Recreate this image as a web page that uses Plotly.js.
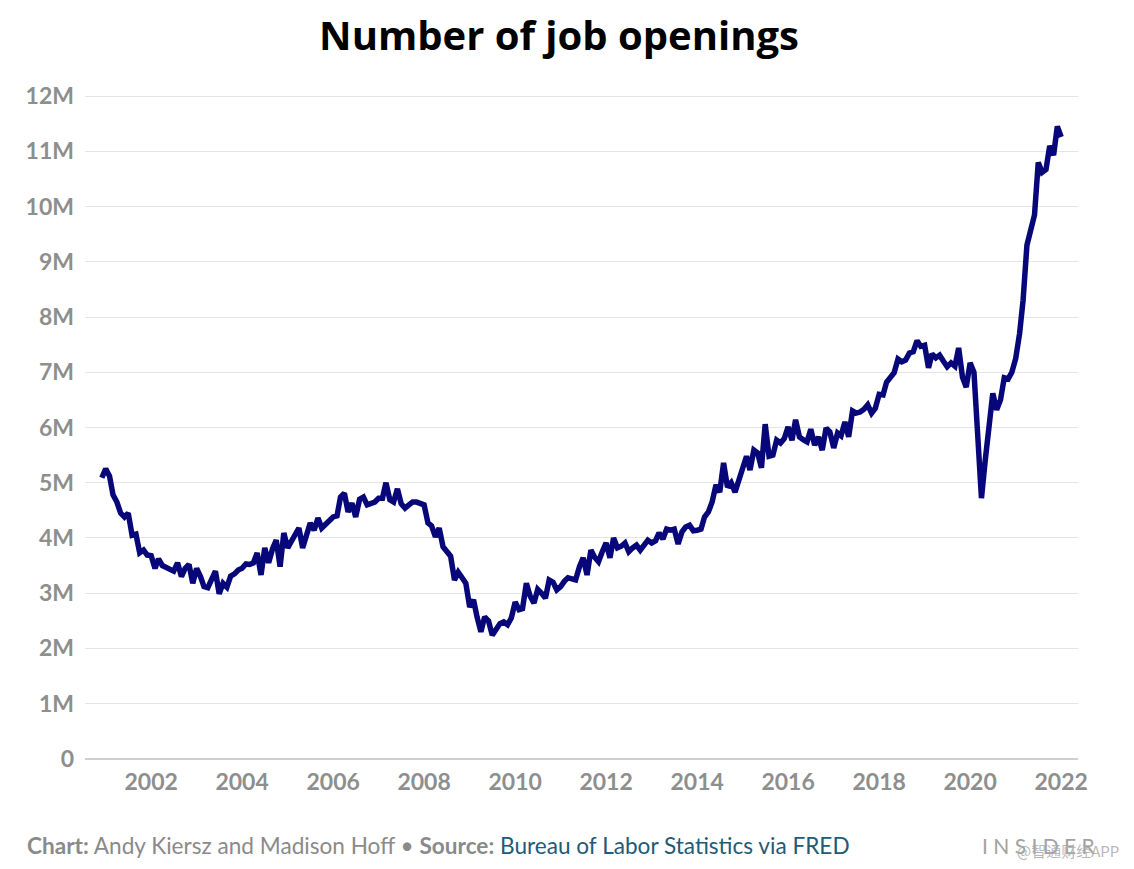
<!DOCTYPE html>
<html>
<head>
<meta charset="utf-8">
<script src="https://cdn.plot.ly/plotly-3.0.1.min.js"></script>
<style>
  html, body { margin: 0; padding: 0; background: #fff; }
  #chart { width: 1134px; height: 869px; }
</style>
</head>
<body>
<div id="chart"></div>
<script>
// Job openings, millions (monthly, seasonally adjusted)
const startYear = 2000;
const startMonth = 12;
const openings2000 = [5.09];
const openings2001 = [5.25, 5.12, 4.78, 4.65, 4.45, 4.38, 4.45, 4.05, 4.07, 3.73, 3.78, 3.69];
const openings2002 = [3.68, 3.45, 3.62, 3.50, 3.47, 3.44, 3.40, 3.55, 3.30, 3.45, 3.52, 3.18];
const openings2003 = [3.45, 3.30, 3.12, 3.10, 3.25, 3.40, 2.99, 3.18, 3.11, 3.31, 3.35, 3.42];
const openings2004 = [3.45, 3.53, 3.52, 3.55, 3.73, 3.33, 3.82, 3.55, 3.80, 3.96, 3.48, 4.09];
const openings2005 = [3.82, 3.95, 4.05, 4.18, 3.82, 4.05, 4.27, 4.14, 4.36, 4.18, 4.25, 4.30];
const openings2006 = [4.38, 4.40, 4.74, 4.81, 4.47, 4.63, 4.38, 4.70, 4.74, 4.60, 4.62, 4.65];
const openings2007 = [4.72, 4.72, 5.00, 4.69, 4.65, 4.89, 4.62, 4.54, 4.60, 4.65, 4.65, 4.62];
const openings2008 = [4.60, 4.27, 4.22, 4.02, 4.18, 3.84, 3.76, 3.67, 3.24, 3.38, 3.28, 3.18];
const openings2009 = [2.75, 2.88, 2.57, 2.30, 2.57, 2.50, 2.24, 2.35, 2.45, 2.48, 2.43, 2.55];
const openings2010 = [2.84, 2.70, 2.72, 3.18, 2.95, 2.82, 3.07, 3.00, 2.91, 3.24, 3.20, 3.06];
const openings2011 = [3.12, 3.22, 3.28, 3.26, 3.24, 3.48, 3.64, 3.33, 3.78, 3.65, 3.57, 3.75];
const openings2012 = [3.91, 3.64, 4.00, 3.82, 3.85, 3.91, 3.75, 3.82, 3.87, 3.78, 3.88, 3.96];
const openings2013 = [3.91, 3.95, 4.09, 3.98, 4.16, 4.14, 4.16, 3.89, 4.11, 4.20, 4.23, 4.13];
const openings2014 = [4.14, 4.16, 4.38, 4.47, 4.65, 4.96, 4.83, 5.36, 4.92, 5.00, 4.83, 5.05];
const openings2015 = [5.28, 5.48, 5.23, 5.59, 5.54, 5.27, 6.06, 5.48, 5.50, 5.77, 5.72, 5.80];
const openings2016 = [6.01, 5.77, 6.14, 5.83, 5.78, 5.74, 5.97, 5.68, 5.83, 5.59, 5.99, 5.92];
const openings2017 = [5.63, 5.90, 5.85, 6.10, 5.83, 6.30, 6.26, 6.28, 6.33, 6.41, 6.26, 6.35];
const openings2018 = [6.60, 6.59, 6.82, 6.90, 6.99, 7.24, 7.19, 7.22, 7.35, 7.37, 7.57, 7.47];
const openings2019 = [7.49, 7.08, 7.33, 7.26, 7.31, 7.20, 7.10, 7.17, 7.11, 7.44, 6.91, 6.73];
const openings2020 = [7.17, 7.00, 6.00, 4.72, 5.40, 6.00, 6.62, 6.32, 6.50, 6.90, 6.88, 7.00];
const openings2021 = [7.25, 7.70, 8.30, 9.30, 9.60, 9.85, 10.80, 10.62, 10.67, 11.10, 10.93, 11.45];
const openings2022 = [11.26];

const yTickVals = [0, 1, 2, 3, 4, 5, 6, 7, 8, 9, 10, 11, 12];
const yTickText = ['0', '1M', '2M', '3M', '4M', '5M', '6M', '7M', '8M', '9M', '10M', '11M', '12M'];
const xTickVals = ['2002-01-01', '2004-01-01', '2006-01-01', '2008-01-01', '2010-01-01', '2012-01-01',
                   '2014-01-01', '2016-01-01', '2018-01-01', '2020-01-01', '2022-01-01'];
const xTickText = ['2002', '2004', '2006', '2008', '2010', '2012', '2014', '2016', '2018', '2020', '2022'];

const yearly = [openings2000, openings2001, openings2002, openings2003, openings2004, openings2005,
  openings2006, openings2007, openings2008, openings2009, openings2010, openings2011, openings2012,
  openings2013, openings2014, openings2015, openings2016, openings2017, openings2018, openings2019,
  openings2020, openings2021, openings2022];

const values = [].concat(...yearly);
const dates = [];
let yr = startYear, mo = startMonth;
for (let i = 0; i < values.length; i++) {
  dates.push(yr + '-' + String(mo).padStart(2, '0') + '-01');
  mo++; if (mo > 12) { mo = 1; yr++; }
}

const trace = {
  x: dates, y: values, type: 'scatter', mode: 'lines',
  line: { color: '#07077a', width: 5.5, shape: 'linear' },
  hoverinfo: 'x+y'
};

const axisFont = { family: 'Lato, "Open Sans", sans-serif', size: 23, color: '#8e8e8e', weight: 700 };

const layout = {
  width: 1134, height: 869,
  paper_bgcolor: '#ffffff', plot_bgcolor: '#ffffff',
  margin: { l: 85, r: 56, t: 95, b: 109 },
  showlegend: false,
  title: {
    text: '<b>Number of job openings</b>',
    font: { family: '"Open Sans", Lato, sans-serif', size: 40, color: '#000000' },
    xref: 'container', yref: 'container', x: 0.493, xanchor: 'center', y: 1 - 36 / 869, yanchor: 'middle'
  },
  xaxis: {
    type: 'date',
    range: ['2000-07-19', '2022-05-16'],
    tickmode: 'array', tickvals: xTickVals, ticktext: xTickText,
    showgrid: false, zeroline: false, showline: false, ticks: '',
    tickfont: axisFont, ticklabelstandoff: 6
  },
  yaxis: {
    range: [-0.02, 12.02],
    tickmode: 'array', tickvals: yTickVals, ticktext: yTickText,
    showgrid: true, gridcolor: '#e4e4e4', gridwidth: 1,
    zeroline: true, zerolinecolor: '#cfcfcf', zerolinewidth: 2,
    showline: false, ticks: '',
    tickfont: axisFont, ticklabelstandoff: 10
  },
  annotations: [
    {
      xref: 'paper', yref: 'paper', x: (25 - 85) / 993, y: (760 - 845) / 665,
      xanchor: 'left', yanchor: 'middle', showarrow: false,
      text: '<b>Chart:</b> Andy Kiersz and Madison Hoff • <b>Source:</b> <span style="color:#225a78">Bureau of Labor Statistics via FRED</span>',
      font: { family: 'Lato, "Open Sans", sans-serif', size: 22.6, color: '#8a8a8a' }
    },
    {
      xref: 'paper', yref: 'paper', x: (980 - 85) / 993, y: (760 - 845) / 665,
      xanchor: 'left', yanchor: 'middle', showarrow: false,
      text: 'I N S I D E R',
      font: { family: 'Lato, "Open Sans", sans-serif', size: 21, color: '#a2a2a2', weight: 400 }
    },
    {
      xref: 'paper', yref: 'paper', x: (1015 - 85) / 993, y: (760 - 850) / 665,
      xanchor: 'left', yanchor: 'middle', showarrow: false,
      text: '@智通财经APP',
      font: { family: '"Noto Sans CJK SC", sans-serif', size: 15, color: 'rgba(170,170,170,0.85)' }
    }
  ]
};

Plotly.newPlot('chart', [trace], layout, { displayModeBar: false, staticPlot: true });
</script>
</body>
</html>
